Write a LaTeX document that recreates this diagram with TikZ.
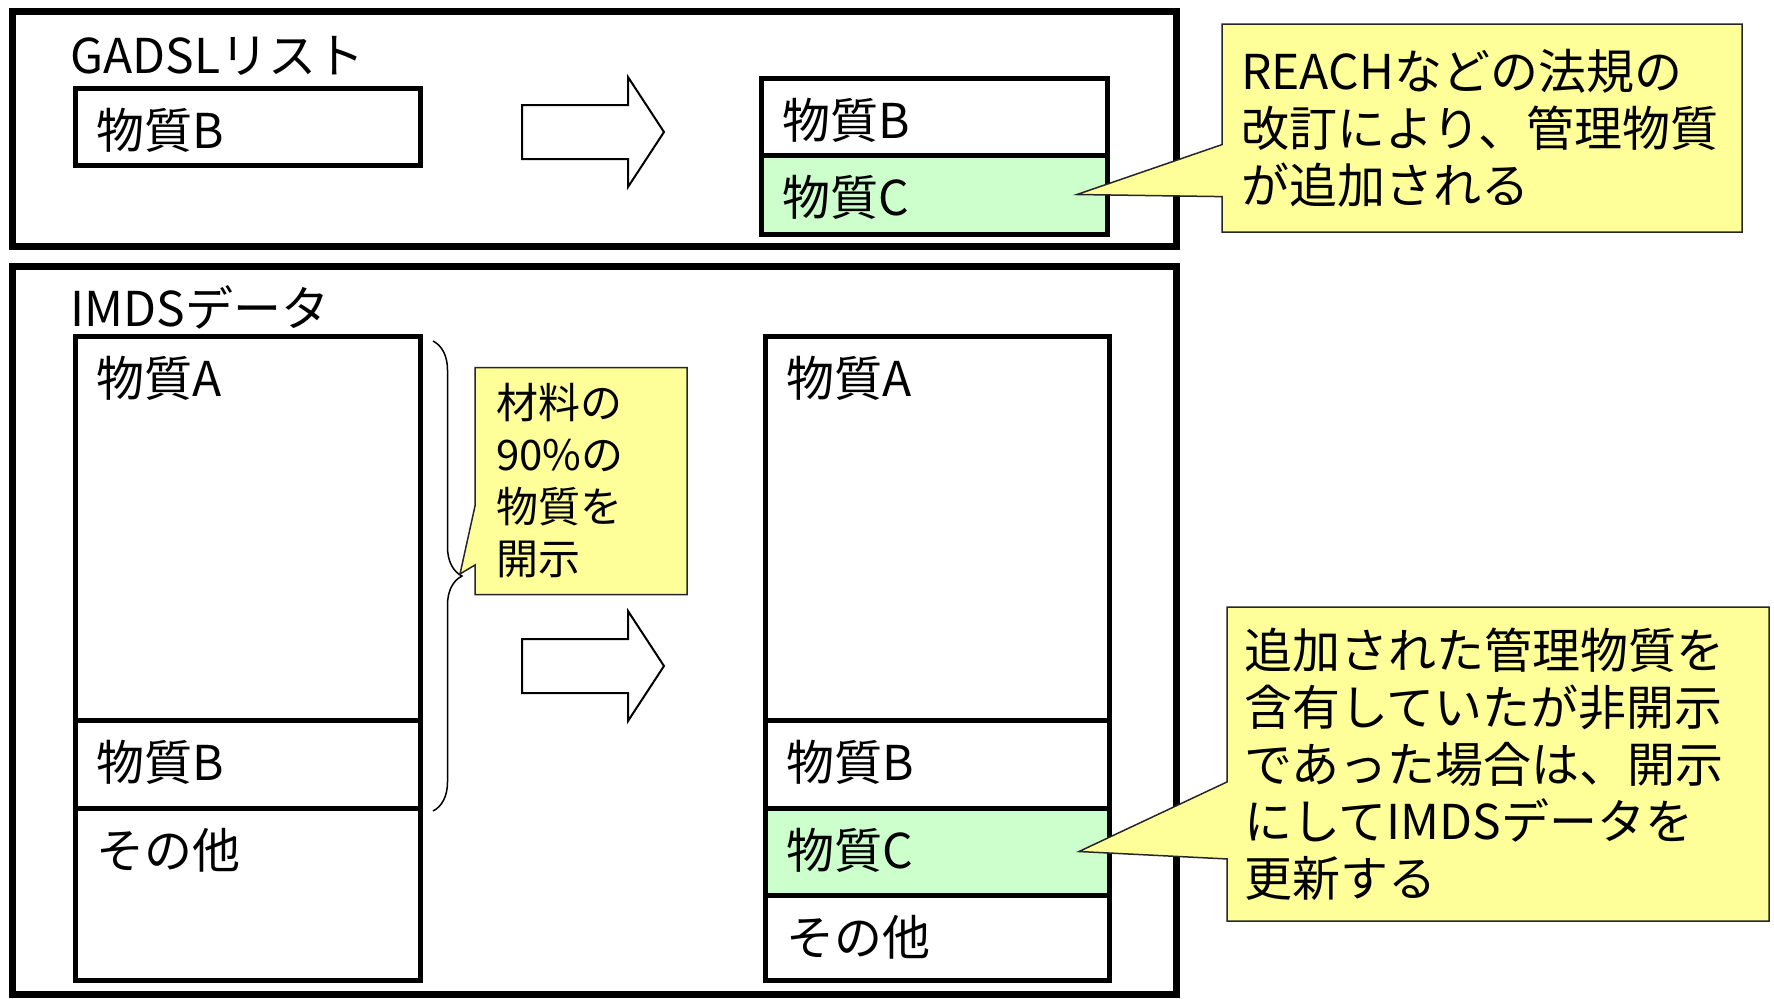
\documentclass[tikz,border=0pt]{standalone}
\usepackage{fontspec}
\setmainfont{Noto Sans CJK JP}
\usepackage{tikz}
\usetikzlibrary{positioning,shapes.callouts,decorations.pathreplacing}
\definecolor{notey}{RGB}{255,255,153}
\definecolor{addg}{RGB}{204,255,204}
\tikzstyle{frame} = [line width=3.5pt]
\tikzstyle{cell} = [rectangle, draw, line width=2.5pt, inner sep=0pt, outer sep=0pt,
    minimum width=172.5pt, anchor=north west]
\tikzstyle{lab} = [anchor=west, inner sep=0pt, font=\fontsize{24}{28}\selectfont]
\tikzstyle{blockarrow} = [draw, line width=1pt, fill=white, line join=miter]
\tikzstyle{note} = [rectangle callout, draw=black!85, line width=0.75pt, fill=notey,
    align=left, font=\fontsize{24}{28.5}\selectfont]

\begin{document}
\begin{tikzpicture}[x=0.5pt, y=-0.5pt]
\useasboundingbox (0,0) rectangle (1774,998);
% frames
\draw[frame] (12,11) rectangle (1176,246);
\draw[frame] (12,266) rectangle (1176,994);

% GADSL list
\node[lab] (gadsl) at (70,56) {GADSLリスト};
\node[cell, minimum height=38.5pt] (gB) at (75,88) {};
\node[cell, minimum width=173pt, minimum height=38.5pt] (tB) at (761,78) {};
\node[cell, minimum width=173pt, minimum height=39.5pt, fill=addg, below=0pt of tB] (tC) {};

% IMDS data
\node[lab] (imds) at (70,307) {IMDSデータ};
\node[cell, minimum height=192pt] (lA) at (75,336) {};
\node[cell, minimum height=44pt, below=0pt of lA] (lB) {};
\node[cell, minimum height=86pt, below=0pt of lB] (lO) {};
\node[cell, minimum width=172pt, minimum height=192pt] (rA) at (765,336) {};
\node[cell, minimum width=172pt, minimum height=44pt, below=0pt of rA] (rB) {};
\node[cell, minimum width=172pt, minimum height=43.5pt, fill=addg, below=0pt of rB] (rC) {};
\node[cell, minimum width=172pt, minimum height=42.5pt, below=0pt of rC] (rO) {};

% substance names
\foreach \c/\t in {gB/物質B, tB/物質B, tC/物質C, lA/物質A, lB/物質B, lO/その他,
    rA/物質A, rB/物質B, rC/物質C, rO/その他}
  \node[lab] at ([shift={(21,42)}]\c.north west) {\t};

% arrows
\foreach \yc in {132,666}
  \draw[blockarrow] (522,\yc-27) -- (628,\yc-27) -- (628,\yc-55) -- (664,\yc)
    -- (628,\yc+55) -- (628,\yc+27) -- (522,\yc+27) -- cycle;

% brace
\draw[line width=0.75pt, decorate, decoration={brace, amplitude=14.5pt}] (433,341) -- (433,811);
\coordinate (braceTip) at (460,574);

% notes
\node[note, minimum height=104pt, text width=241pt, inner xsep=9.5pt,
    callout pointer width=26pt, callout absolute pointer={([xshift=-15pt]tC.east)}]
    (note1) at (1482,128) {REACHなどの法規の\\改訂により、管理物質\\が追加される};
\node[note, font=\fontsize{21}{26}\selectfont, minimum height=113.5pt, text width=85pt,
    inner xsep=10.5pt, callout pointer width=29.5pt, callout absolute pointer={(braceTip)}]
    (note2) at (581,481) {材料の\\90\%の\\物質を\\開示};
\node[note, minimum height=157pt, text width=254pt, inner xsep=8.5pt,
    callout pointer width=38.5pt, callout absolute pointer={([xshift=-15pt]rC.east)}]
    (note3) at (1498,764) {追加された管理物質を\\含有していたが非開示\\であった場合は、開示\\にしてIMDSデータを\\更新する};
\end{tikzpicture}
\end{document}
